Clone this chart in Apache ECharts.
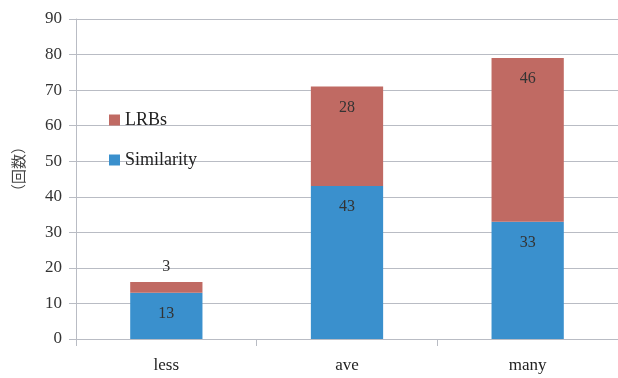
<!DOCTYPE html>
<html>
<head>
<meta charset="utf-8">
<script src="https://cdn.jsdelivr.net/npm/echarts@6/dist/echarts.min.js"></script>
<style>
  html, body { margin: 0; padding: 0; background: #ffffff; }
  #chart { width: 618px; height: 378px; }
</style>
</head>
<body>
<div id="chart"></div>
<script>
// Categories and stacked counts
const categories = ['less', 'ave', 'many'];
const similarity = [13, 43, 33];
const lrbs = [3, 28, 46];
const yTicks = [0, 10, 20, 30, 40, 50, 60, 70, 80, 90];
const yTitle = '（回数）';

const serif = '"Liberation Serif", "DejaVu Serif", serif';
const blue = '#3a90cd';
const red = '#c06a63';

const chart = echarts.init(document.getElementById('chart'), null, { renderer: 'canvas' });

chart.setOption({
  backgroundColor: '#ffffff',
  animation: false,
  grid: { left: 76, right: 0, top: 19, bottom: 39 },
  legend: {
    orient: 'vertical',
    left: 104,
    top: 106,
    itemWidth: 11,
    itemHeight: 11,
    itemGap: 22,
    icon: 'rect',
    data: ['LRBs', 'Similarity'],
    textStyle: { fontFamily: serif, fontSize: 18, color: '#222' }
  },
  xAxis: {
    type: 'category',
    data: categories,
    axisLine: { lineStyle: { color: '#b9bcc4', width: 1 } },
    axisTick: { show: true, length: 7, alignWithLabel: false, lineStyle: { color: '#b9bcc4' } },
    axisLabel: { fontFamily: serif, fontSize: 17, color: '#222', margin: 18 }
  },
  yAxis: {
    type: 'value',
    min: yTicks[0],
    max: yTicks[yTicks.length - 1],
    interval: 10,
    axisLine: { show: true, lineStyle: { color: '#b9bcc4', width: 1 } },
    axisTick: { show: true, length: 7, lineStyle: { color: '#b9bcc4' } },
    axisLabel: { fontFamily: serif, fontSize: 17, color: '#333', margin: 14 },
    splitLine: { show: true, lineStyle: { color: '#b9bcc4', width: 1 } }
  },
  graphic: [{
    // axis title, rotated to read bottom-to-top
    type: 'text',
    x: 18,
    y: 169,
    rotation: Math.PI / 2,
    style: {
      text: yTitle,
      font: '15px "Noto Sans CJK JP", sans-serif',
      fill: '#444',
      align: 'center',
      verticalAlign: 'middle'
    }
  }],
  series: [
    {
      name: 'Similarity',
      type: 'bar',
      stack: 'total',
      barWidth: '40%',
      data: similarity,
      itemStyle: { color: blue },
      label: {
        show: true,
        position: 'insideTop',
        distance: 13,
        fontFamily: serif,
        fontSize: 16,
        color: '#333'
      }
    },
    {
      name: 'LRBs',
      type: 'bar',
      stack: 'total',
      barWidth: '40%',
      data: lrbs.map(v => v < 10
        ? { value: v, label: { position: 'top', distance: 7 } }
        : v),
      itemStyle: { color: red },
      label: {
        show: true,
        position: 'insideTop',
        distance: 13,
        fontFamily: serif,
        fontSize: 16,
        color: '#333'
      }
    }
  ]
});
</script>
</body>
</html>
